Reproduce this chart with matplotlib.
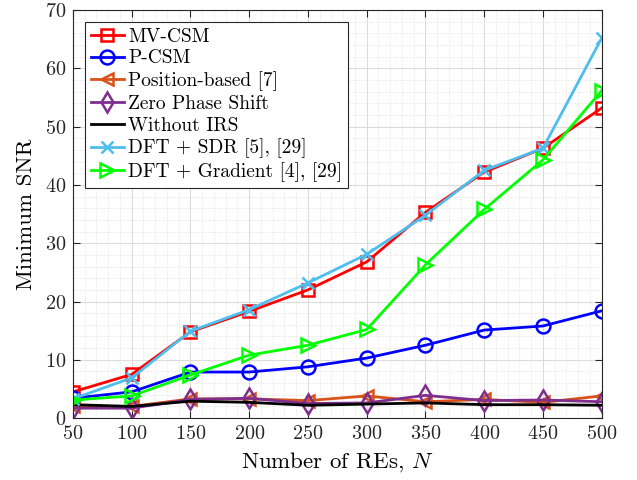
import numpy as np
import matplotlib
matplotlib.use("Agg")
import matplotlib.pyplot as plt
from matplotlib.ticker import MultipleLocator

plt.rcParams['font.family'] = 'serif'
plt.rcParams['font.serif'] = ['cmr10']
plt.rcParams['mathtext.fontset'] = 'cm'
plt.rcParams['axes.formatter.use_mathtext'] = True

N = [50, 100, 150, 200, 250, 300, 350, 400, 450, 500]
mv_csm = [4.5, 7.5, 14.8, 18.3, 22.0, 26.8, 35.3, 42.2, 46.3, 53.2]
p_csm = [3.4, 4.5, 7.9, 7.9, 8.8, 10.3, 12.5, 15.1, 15.8, 18.4]
pos_based = [2.0, 2.0, 3.3, 3.3, 3.0, 3.8, 2.8, 3.2, 2.7, 3.8]
zero_phase = [1.7, 1.7, 3.2, 3.4, 2.5, 2.6, 3.9, 3.0, 3.1, 2.8]
no_irs = [2.3, 2.0, 2.9, 2.7, 2.2, 2.4, 2.6, 2.3, 2.3, 2.2]
dft_sdr = [3.3, 6.9, 14.9, 18.6, 23.2, 28.1, 34.8, 42.5, 46.3, 65.2]
dft_grad = [3.1, 3.8, 7.4, 10.8, 12.5, 15.2, 26.3, 35.8, 44.3, 56.2]

fig = plt.figure(figsize=(6.37, 4.8), dpi=100)
ax = fig.add_axes([0.1146, 0.129, 0.830, 0.85])

lw = 2
ms = 9
ax.plot(N, mv_csm, color='red', marker='s', ms=ms, mfc='none', mew=1.8, lw=lw, label='MV-CSM')
ax.plot(N, p_csm, color='blue', marker='o', ms=ms + 1, mfc='none', mew=1.8, lw=lw, label='P-CSM')
ax.plot(N, pos_based, color=(0.85, 0.325, 0.098), marker='<', ms=ms, mfc='none', mew=1.8, lw=lw,
        label='Position-based [7]')
ax.plot(N, zero_phase, color=(0.494, 0.184, 0.556), marker='d', ms=ms + 1, mfc='none', mew=1.8, lw=lw,
        label='Zero Phase Shift')
ax.plot(N, no_irs, color='black', lw=lw, label='Without IRS')
ax.plot(N, dft_sdr, color=(0.30, 0.745, 0.933), marker='x', ms=ms, mew=1.8, lw=lw,
        label='DFT + SDR [5], [29]')
ax.plot(N, dft_grad, color=(0, 1, 0), marker='>', ms=ms + 1, mfc='none', mew=1.8, lw=lw,
        label='DFT + Gradient [4], [29]')

ax.set_xlim(50, 500)
ax.set_ylim(0, 70)
ax.xaxis.set_major_locator(MultipleLocator(50))
ax.xaxis.set_minor_locator(MultipleLocator(10))
ax.yaxis.set_major_locator(MultipleLocator(10))
ax.yaxis.set_minor_locator(MultipleLocator(2))
ax.grid(which='major', color='#dcdcdc', lw=0.8)
ax.grid(which='minor', color='#dcdcdc', lw=0.6, ls=':')
ax.set_axisbelow(True)
ax.tick_params(which='both', direction='in', top=True, right=True, labelsize=14.5, colors='#262626')
ax.tick_params(which='minor', length=0)
ax.tick_params(which='major', length=5, pad=5)
for s in ax.spines.values():
    s.set_color('#262626')

ax.set_xlabel('Number of REs, $N$', fontsize=16.5, labelpad=5)
ax.set_ylabel('Minimum SNR', fontsize=16.5, labelpad=6)

leg = ax.legend(loc='upper left', fontsize=14, fancybox=False, edgecolor='#262626',
                framealpha=1, handlelength=1.7, handletextpad=0.25, labelspacing=0.2,
                borderaxespad=0.6, borderpad=0.3)
leg.get_frame().set_linewidth(0.8)

fig.savefig('out.png', dpi=100)
